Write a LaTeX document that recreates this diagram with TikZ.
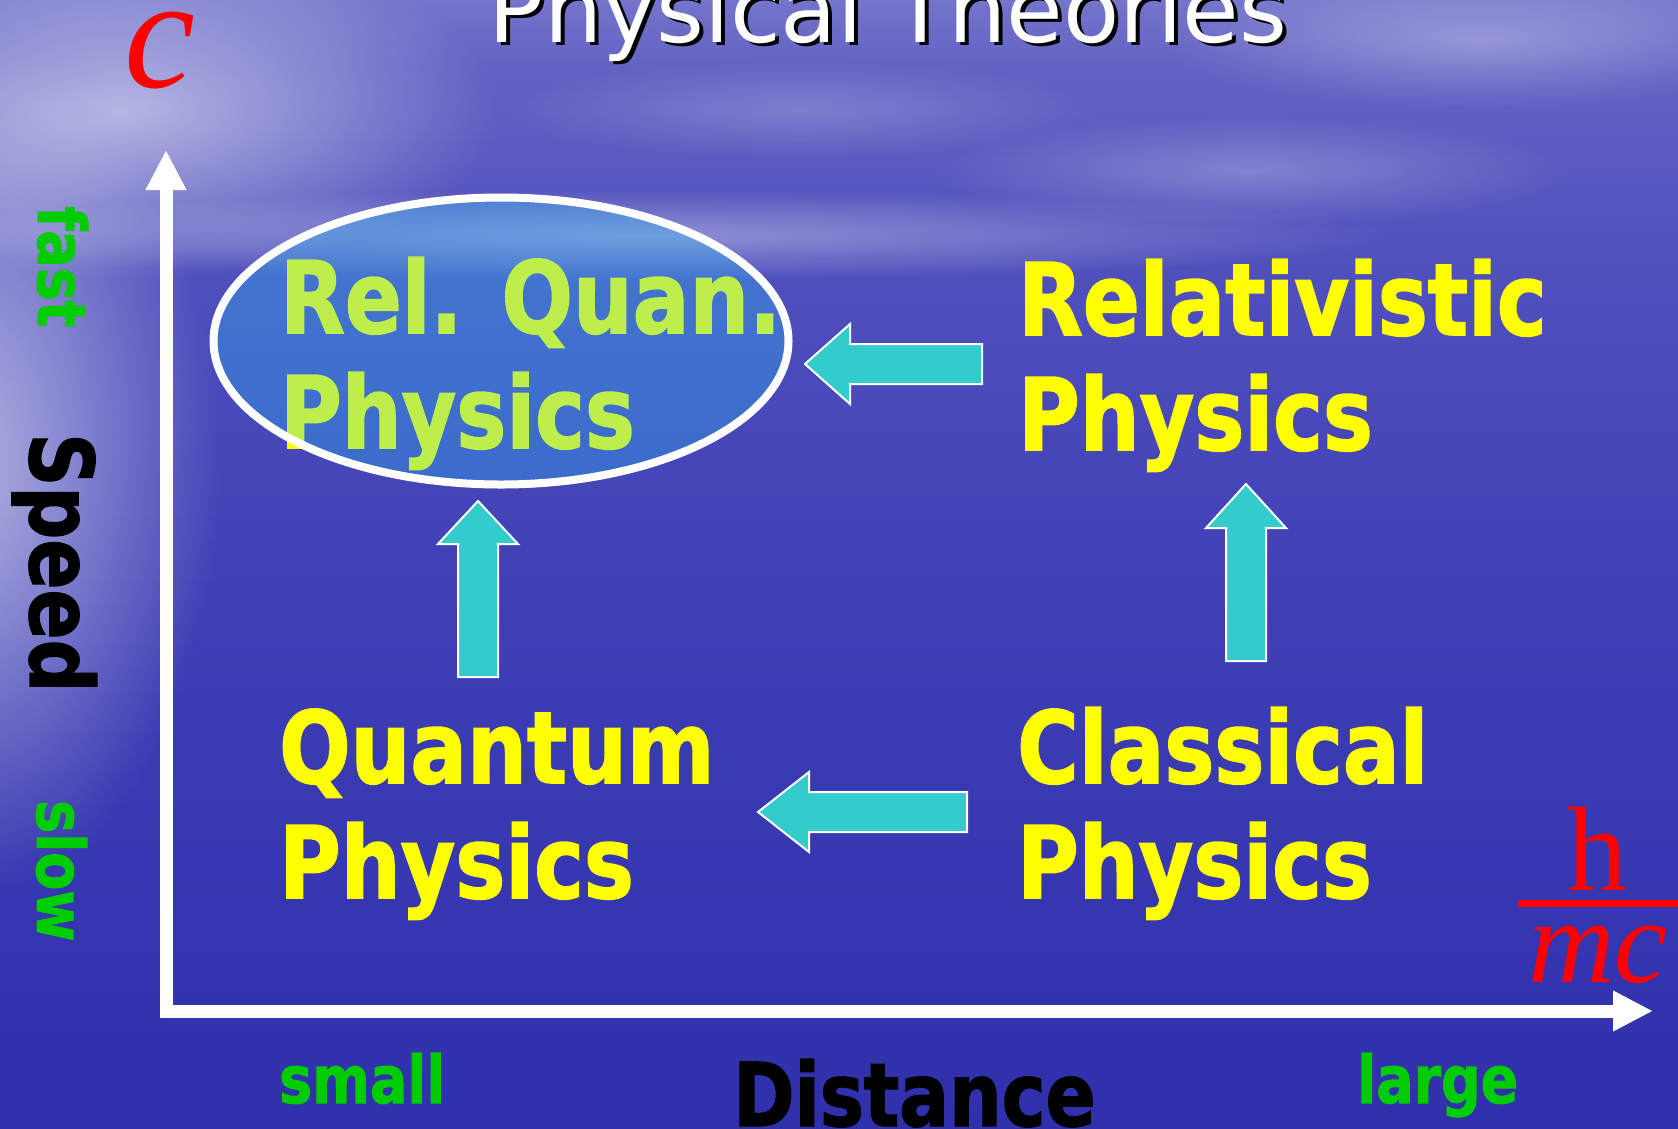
\documentclass[tikz,border=0pt]{standalone}
\usepackage{fontspec}
\setmainfont{DejaVu Sans}
\newfontfamily\slidefont{DejaVu Sans}[FakeStretch=0.84, BoldFeatures={FakeBold=1.5}]
\newfontfamily\titlefont{DejaVu Sans}
\newfontfamily\timesfont{Liberation Serif}
\usetikzlibrary{arrows.meta,shapes.geometric,fadings}

\definecolor{labelyellow}{RGB}{255,255,0}
\definecolor{labelgreen}{RGB}{0,204,0}
\definecolor{arrowcyan}{RGB}{51,204,204}
\definecolor{bubbleblue}{RGB}{40,200,250}

% sky, horizon and sea, bottom (0bp) to top (100bp)
\pgfdeclareverticalshading{seasky}{100bp}{%
  rgb(0bp)=(0.173,0.173,0.643);
  rgb(25bp)=(0.188,0.188,0.675);
  rgb(45bp)=(0.235,0.235,0.706);
  rgb(62bp)=(0.306,0.306,0.737);
  rgb(72bp)=(0.384,0.384,0.769);
  rgb(78bp)=(0.529,0.529,0.824);
  rgb(83bp)=(0.439,0.439,0.784);
  rgb(100bp)=(0.490,0.490,0.804)}
\tikzfading[name=haze, inner color=transparent!0, outer color=transparent!100]

% block arrow: tip, angle, head length, total length
\newcommand{\fatarrow}[4]{%
  \draw[fatarr, shift={(#1)}, rotate=#2] (0,0) -- (#3,40) -- (#3,20) -- (#4,20)
    -- (#4,-20) -- (#3,-20) -- (#3,-40) -- cycle;}

\begin{document}
\begin{tikzpicture}[x=1pt, y=-1pt,
    theory/.style={anchor=base west, inner sep=0pt, align=left, text=labelyellow,
      font=\slidefont\bfseries\fontsize{100}{115}\selectfont},
    scale label/.style={anchor=base west, inner sep=0pt, text=labelgreen,
      font=\slidefont\bfseries\fontsize{66}{70}\selectfont},
    axis name/.style={anchor=base west, inner sep=0pt, text=black,
      font=\slidefont\bfseries\fontsize{88}{90}\selectfont},
    titletext/.style={anchor=base, inner sep=0pt,
      font=\titlefont\fontsize{92}{96}\selectfont},
    bubble/.style={ellipse, minimum width=575pt, minimum height=287pt, inner sep=0pt,
      draw=white, line width=8pt, fill=bubbleblue, fill opacity=0.3},
    fatarr/.style={fill=arrowcyan, draw=white, line width=2pt, line join=miter},
    axis/.style={white, line width=13pt, line join=miter,
      {Triangle[length=40pt,width=38pt]}-{Triangle[length=40pt,width=38pt]}}]
    \useasboundingbox (0,0) rectangle (1678,1128);

    % background
    \shade[shading=seasky] (0,0) rectangle (1678,1128);
    \fill[white, opacity=0.6, path fading=haze] (-40,470) ellipse [x radius=260, y radius=430];
    \fill[white, opacity=0.55, path fading=haze] (120,110) ellipse [x radius=380, y radius=170];
    \fill[white, opacity=0.35, path fading=haze] (650,235) ellipse [x radius=750, y radius=45];
    \fill[white, opacity=0.3, path fading=haze] (1480,40) ellipse [x radius=320, y radius=70];
    \fill[white, opacity=0.25, path fading=haze] (1250,170) ellipse [x radius=320, y radius=55];
    \fill[white, opacity=0.2, path fading=haze] (800,110) ellipse [x radius=300, y radius=50];

    % title
    \node[titletext, text=black] at (892,45) {Physical Theories};
    \node[titletext, text=white] (title) at (888,42) {Physical Theories};

    % axes
    \coordinate (origin) at (166,1011);
    \coordinate (ytop) at (166,150);
    \coordinate (xend) at (1653,1011);
    \draw[axis] (ytop) -- (origin) -- (xend);

    \node[anchor=base west, inner sep=0pt, text=red,
      font=\timesfont\itshape\fontsize{160}{160}\selectfont] (cspeed) at (124,87) {c};
    \node[anchor=base, inner sep=0pt, text=red,
      font=\timesfont\fontsize{120}{120}\selectfont] (hbar) at (1597,890) {h};
    \node[anchor=base west, inner sep=0pt, text=red,
      font=\timesfont\itshape\fontsize{120}{120}\selectfont] (mc) at (1528,982) {mc};
    \coordinate (barleft) at (1521,903);
    \coordinate (barright) at (1700,903);
    \draw[red, line width=7pt, line cap=round] (barleft) -- (barright);

    \node[scale label, rotate=-90] (fast) at (38,206) {fast};
    \node[axis name, rotate=-90] (speed) at (30,433) {Speed};
    \node[scale label, rotate=-90] (slow) at (37,800) {slow};
    \node[scale label] (small) at (279,1103) {small};
    \node[axis name] (distance) at (733,1126) {Distance};
    \node[scale label] (large) at (1357,1103) {large};

    % theories (base = last line)
    \node[theory] (relquan) at (280,448) {Rel. Quan.\\Physics};
    \node[bubble] (relbubble) at (501,341) {};
    \node[theory] (relphys) at (1018,450) {Relativistic\\Physics};
    \node[theory] (quanphys) at (279,898) {Quantum\\Physics};
    \node[theory] (classphys) at (1017,898) {Classical\\Physics};

    % block arrows
    \coordinate (tipA) at (805,364);
    \coordinate (tipB) at (478,501);
    \coordinate (tipC) at (1246,484);
    \coordinate (tipD) at (758,812);
    \fatarrow{tipA}{0}{45}{177}
    \fatarrow{tipB}{-90}{43}{176}
    \fatarrow{tipC}{-90}{44}{177}
    \fatarrow{tipD}{0}{51}{209}
\end{tikzpicture}
\end{document}
